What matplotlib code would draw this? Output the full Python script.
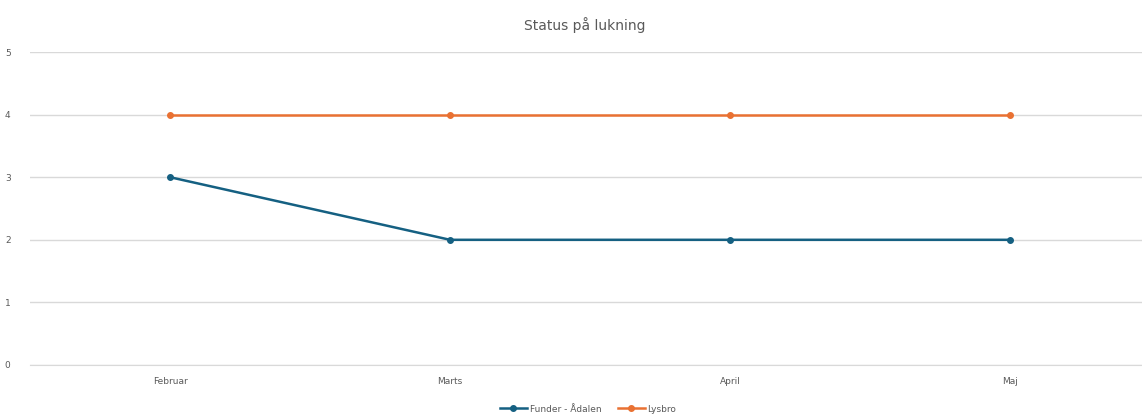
import matplotlib

matplotlib.use("Agg")

import matplotlib.pyplot as plt

months = ["Februar", "Marts", "April", "Maj"]
funder_aadalen = [3, 2, 2, 2]
lysbro = [4, 4, 4, 4]

BLUE = "#156082"
ORANGE = "#E97132"
TEXT = "#595959"
GRID = "#D9D9D9"

fig = plt.figure(figsize=(11.42, 4.16), dpi=100)
ax = fig.add_axes([30 / 1142, 51 / 416, 1120 / 1142, 313 / 416])

x = range(len(months))
ax.plot(x, funder_aadalen, color=BLUE, linewidth=1.8, marker="o", markersize=4,
        label="Funder - Ådalen")
ax.plot(x, lysbro, color=ORANGE, linewidth=1.8, marker="o", markersize=4,
        label="Lysbro")

ax.set_xlim(-0.5, 3.5)
ax.set_ylim(0, 5)
ax.set_yticks(range(6))
ax.set_xticks(list(x))
ax.set_xticklabels(months)
ax.grid(axis="y", color=GRID, linewidth=1)
ax.set_axisbelow(True)
for side in ("top", "right", "left"):
    ax.spines[side].set_visible(False)
ax.spines["bottom"].set_color(GRID)
ax.tick_params(axis="both", length=0, labelsize=6.5, colors=TEXT)
ax.tick_params(axis="y", pad=14)
ax.tick_params(axis="x", pad=9)

fig.text(585 / 1142, 1 - 25 / 416, "Status på lukning", ha="center", va="center",
         fontsize=10, color=TEXT)
fig.legend(loc="center", bbox_to_anchor=(588 / 1142, 1 - 409 / 416), ncol=2,
           frameon=False, fontsize=6.5, labelcolor=TEXT, handlelength=3,
           columnspacing=1.8, handletextpad=0.3)

fig.savefig("out.png", dpi=100)
